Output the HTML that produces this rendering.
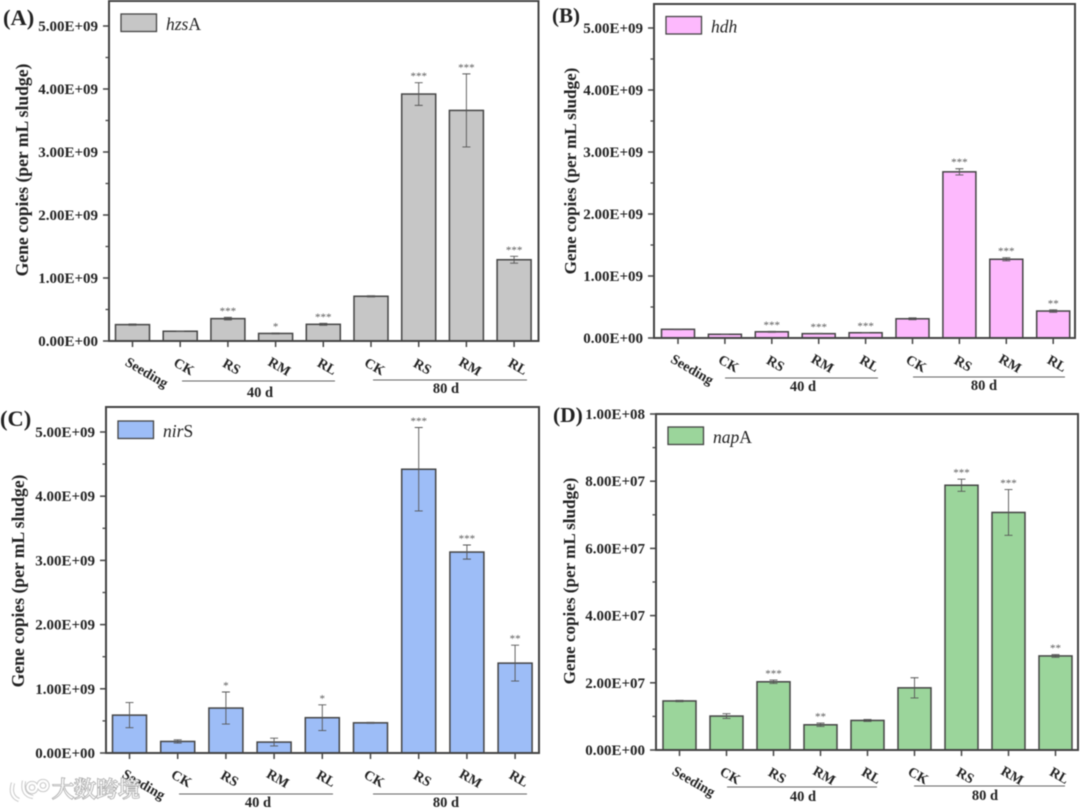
<!DOCTYPE html>
<html lang="en">
<head>
<meta charset="utf-8">
<title>Gene copies per mL sludge</title>
<style>
html,body{margin:0;padding:0;background:#fff;width:1080px;height:809px;overflow:hidden}
svg{display:block;filter:blur(0.45px)}
text{font-family:"Liberation Serif","Noto Serif CJK SC",serif;fill:#222}
.b{font-weight:bold}
</style>
</head>
<body>
<svg id="figure" width="1080" height="809" viewBox="0 0 1080 809" xmlns="http://www.w3.org/2000/svg"></svg>
<script>
// ---- Data ----
const categories = ['Seeding','CK','RS','RM','RL','CK','RS','RM','RL'];
const groupLabels = ['40 d','80 d'];

const hzsValues = [2.6e8,1.55e8,3.55e8,1.2e8,2.65e8,7.1e8,3.92e9,3.66e9,1.29e9];
const hzsErrors = [1e7,5e6,2e7,8e6,1.5e7,1e7,1.8e8,5.8e8,5.5e7];
const hzsSig = ['','','***','*','***','','***','***','***'];
const hzsTicks = [0,1e9,2e9,3e9,4e9,5e9];
const hzsTickLabels = ['0.00E+00','1.00E+09','2.00E+09','3.00E+09','4.00E+09','5.00E+09'];

const hdhValues = [1.4e8,6e7,1e8,7e7,8.5e7,3.1e8,2.68e9,1.27e9,4.35e8];
const hdhErrors = [5e6,5e6,8e6,5e6,5e6,1.5e7,5e7,2.5e7,2e7];
const hdhSig = ['','','***','***','***','','***','***','**'];
const hdhTicks = [0,1e9,2e9,3e9,4e9,5e9];
const hdhTickLabels = ['0.00E+00','1.00E+09','2.00E+09','3.00E+09','4.00E+09','5.00E+09'];

const nirValues = [5.9e8,1.8e8,7e8,1.7e8,5.5e8,4.7e8,4.42e9,3.13e9,1.4e9];
const nirErrors = [1.95e8,2.5e7,2.5e8,6e7,2e8,8e6,6.5e8,1.1e8,2.8e8];
const nirSig = ['','','*','','*','','***','***','**'];
const nirTicks = [0,1e9,2e9,3e9,4e9,5e9];
const nirTickLabels = ['0.00E+00','1.00E+09','2.00E+09','3.00E+09','4.00E+09','5.00E+09'];

const napValues = [1.46e7,1.01e7,2.03e7,7.5e6,8.8e6,1.85e7,7.88e7,7.07e7,2.8e7];
const napErrors = [2e5,7e5,5e5,5e5,3e5,3e6,1.8e6,6.8e6,4e5];
const napSig = ['','','***','**','','','***','***','**'];
const napTicks = [0,2e7,4e7,6e7,8e7,1e8];
const napTickLabels = ['0.00E+00','2.00E+07','4.00E+07','6.00E+07','8.00E+07','1.00E+08'];

// ---- Panel definitions ----
const panels = [
 {id:'a',tag:'(A)',tagX:3,tagY:25,tagSize:22.5,titleSize:17.6,color:'#c6c6c6',values:hzsValues,errors:hzsErrors,sig:hzsSig,ticks:hzsTicks,labels:hzsTickLabels,
  left:109,right:538.5,top:1,bottom:341,yTop:26,vTop:5e9,first:132.5,step:47.7,barW:34,
  gene:'hzs',suffix:'A',legX:121,legY:14,titleX:28,titleY:170,
  g1:[182,335,381,260,397],g2:[373,527,380,446,393]},
 {id:'b',tag:'(B)',tagX:552,tagY:22.5,tagSize:21,titleSize:17.1,color:'#fdb9fd',values:hdhValues,errors:hdhErrors,sig:hdhSig,ticks:hdhTicks,labels:hdhTickLabels,
  left:654,right:1075,top:4,bottom:338,yTop:28,vTop:5e9,first:678,step:46.9,barW:33,
  gene:'hdh',suffix:'',legX:666,legY:16.5,titleX:576,titleY:171,
  g1:[725,878,378,803,391],g2:[913,1065,377,984,390]},
 {id:'c',tag:'(C)',tagX:0,tagY:426,tagSize:22.5,titleSize:17.6,color:'#9dbdf7',values:nirValues,errors:nirErrors,sig:nirSig,ticks:nirTicks,labels:nirTickLabels,
  left:106,right:539,top:407,bottom:753,yTop:432,vTop:5e9,first:129.5,step:48.2,barW:34,
  gene:'nir',suffix:'S',legX:118,legY:421,titleX:24,titleY:581,
  g1:[179,333,794,258,807],g2:[373,527,794,446,807]},
 {id:'d',tag:'(D)',tagX:553,tagY:422,tagSize:21.5,titleSize:17.1,color:'#9bd59b',values:napValues,errors:napErrors,sig:napSig,ticks:napTicks,labels:napTickLabels,
  left:656,right:1078,top:414,bottom:750,yTop:414,vTop:1e8,first:679.5,step:47,barW:33,
  gene:'nap',suffix:'A',legX:668,legY:427,titleX:575,titleY:581,
  g1:[727,877,787,803,801],g2:[914,1065,786,985,800]}
];

const NS = 'http://www.w3.org/2000/svg';
const root = document.getElementById('figure');
function make(tag, parent, attrs, txt){
  const el = document.createElementNS(NS, tag);
  for (const k in attrs) el.setAttribute(k, attrs[k]);
  if (txt !== undefined) el.textContent = txt;
  parent.appendChild(el);
  return el;
}
const INK = '#444';

panels.forEach(function(p){
  const g = make('g', root, {});
  
  
  const yScale = function(v){ return p.bottom - (v / p.vTop) * (p.bottom - p.yTop); };
  const xScale = function(i){ return p.first + i * p.step; };

  // bars, error bars, significance marks
  p.values.forEach(function(v, i){
    const cx = xScale(i), yv = yScale(v);
    const bar = make('rect', g, {x:cx - p.barW/2, y:yv, width:p.barW, height:p.bottom - yv, fill:p.color, stroke:INK, 'stroke-width':1.5});
    
    
    const yHi = yScale(v + p.errors[i]), yLo = yScale(v - p.errors[i]);
    const err = make('path', g, {d:'M'+cx+' '+yHi+'V'+yLo+'M'+(cx-4)+' '+yHi+'H'+(cx+4)+'M'+(cx-4)+' '+yLo+'H'+(cx+4), fill:'none', stroke:'#555', 'stroke-width':0.9});
    
    
    if (p.sig[i]) {
      const s = make('text', g, {x:cx, y:yHi - 3, 'text-anchor':'middle', 'font-size':11, style:'fill:#555'}, p.sig[i]);
      
      
    }
    const tick = make('line', g, {x1:cx, x2:cx, y1:p.bottom, y2:p.bottom + 6, stroke:INK, 'stroke-width':1.5});
    
    
    const lx = i === 0 ? cx + 14 : cx + 3.5;
    const ly = i === 0 ? p.bottom + 36 : p.bottom + 30;
    const lab = make('text', g, {x:lx, y:ly, 'text-anchor':'middle', 'font-size':14, 'class':'b', transform:'rotate(30 '+lx+' '+(ly-4)+')'}, categories[i]);
    
    
  });

  // frame
  const frame = make('path', g, {d:'M'+p.left+' '+p.top+'H'+p.right+'V'+p.bottom+'H'+p.left+'Z', fill:'none', stroke:INK, 'stroke-width':2});
  
  

  // y ticks
  p.ticks.forEach(function(t, i){
    const y = yScale(t);
    const tk = make('line', g, {x1:p.left - 6, x2:p.left, y1:y, y2:y, stroke:INK, 'stroke-width':1.5});
    
    
    const lab = make('text', g, {x:p.left - 11, y:y + 5, 'text-anchor':'end', 'font-size':15, 'class':'b'}, p.labels[i]);
    
    
    if (i < p.ticks.length - 1) {
      const my = yScale((t + p.ticks[i+1]) / 2);
      const mt = make('line', g, {x1:p.left - 3.5, x2:p.left, y1:my, y2:my, stroke:INK, 'stroke-width':1.3});
      
      
    }
  });

  // y title
  const yt = make('text', g, {x:p.titleX, y:p.titleY, 'text-anchor':'middle', 'font-size':p.titleSize, 'class':'b', transform:'rotate(-90 '+p.titleX+' '+p.titleY+')'}, 'Gene copies (per mL sludge)');
  
  

  // panel tag
  const tag = make('text', g, {x:p.tagX, y:p.tagY, 'font-size':p.tagSize, 'class':'b'}, p.tag);
  
  

  // legend
  const sw = make('rect', g, {x:p.legX, y:p.legY, width:35.5, height:17.5, fill:p.color, stroke:INK, 'stroke-width':1.3});
  
  
  const lt = make('text', g, {x:p.legX + 45, y:p.legY + 16, 'font-size':17.5});
  
  
  make('tspan', lt, {'font-style':'italic'}, p.gene);
  make('tspan', lt, {}, p.suffix);

  // group brackets
  [p.g1, p.g2].forEach(function(q, i){
    const ln = make('line', g, {x1:q[0], x2:q[1], y1:q[2], y2:q[2], stroke:'#666', 'stroke-width':1.1});
    
    
    const gl = make('text', g, {x:q[3], y:q[4], 'text-anchor':'middle', 'font-size':14.5, 'class':'b'}, groupLabels[i]);
    
    
  });
});

// watermark
const wm = make('g', root, {});


const logoPath = 'M13 783 Q9 796 19 800 M24 781 Q21 795 33 797 M32 783 a4.5 4.5 0 1 0 .1 0 M43 781 a4.5 4.5 0 1 0 .1 0';
make('path', wm, {d:logoPath, fill:'none', stroke:'#c4c4c4', 'stroke-width':4.2});
make('path', wm, {d:logoPath, fill:'none', stroke:'#fff', 'stroke-width':2.4});
const wt = make('text', wm, {x:52, y:797, 'font-size':22, style:'fill:#fbfbfb;stroke:#aaa;stroke-width:1.6;paint-order:stroke'}, '大数跨境');


</script>
</body>
</html>
